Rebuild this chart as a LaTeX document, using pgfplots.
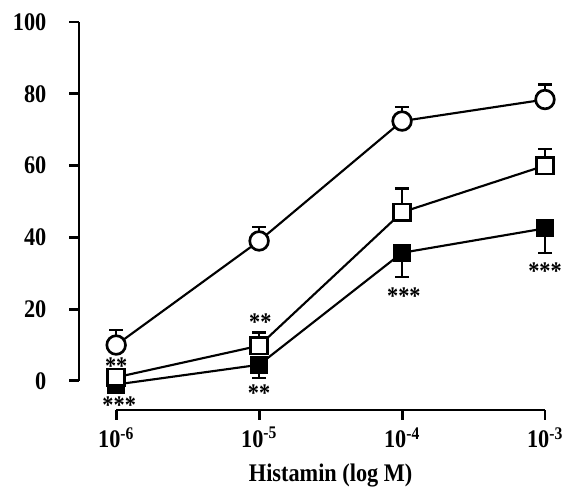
\documentclass[border=0pt]{standalone}
\usepackage{fontspec}
\setmainfont{Liberation Serif}
\newfontfamily\chartfont[FakeStretch=0.88]{Liberation Serif}
\usepackage{pgfplots}
\pgfplotsset{compat=1.18}
\begin{document}
\begin{tikzpicture}[x=1pt,y=1pt]
\begin{axis}[
  name=ax,
  scale only axis,
  width=349.5pt, height=291pt,
  xmode=log,
  xmin=5.4954e-7, xmax=1e-3,
  ymin=-8.1, ymax=100,
  clip=false,
  axis x line*=bottom, axis y line*=left,
  axis line style={draw=none},
  xtick={1e-6,1e-5,1e-4,1e-3},
  xticklabels={10\textsuperscript{-6},10\textsuperscript{-5},10\textsuperscript{-4},10\textsuperscript{-3}},
  minor x tick num=0,
  xminorticks=false,
  ytick={0,20,40,60,80,100},
  tick align=outside,
  major tick length=7.5pt,
  every tick/.style={black, line width=2.2pt},
  /pgf/number format/assume math mode=true,
  tick label style={font=\fontsize{19}{22}\selectfont\chartfont\bfseries},
  yticklabel style={xshift=-13.5pt},
  xticklabel style={yshift=-2pt},
  xlabel={Histamin (log M)},
  xlabel style={font=\fontsize{19}{22}\selectfont\chartfont\bfseries, xshift=14pt, yshift=-5pt},
  error bars/error bar style={line width=1.6pt, black},
  error bars/error mark options={rotate=90, mark size=5.3pt, line width=1.6pt, black},
]
% axis lines
\draw[line width=2.2pt] (axis cs:5.4954e-7,0) -- (axis cs:5.4954e-7,100);
\draw[line width=2.2pt] (axis cs:1e-6,-8.1) -- (axis cs:1e-3,-8.1);

% filled squares
\addplot[black, line width=1.6pt, mark=square*, mark size=6.25pt,
  mark options={fill=black, line width=1pt},
  error bars/.cd, y dir=minus, y explicit]
  coordinates {
    (1e-6,-1.0) -= (0,0)
    (1e-5,4.5) -= (0,3.8)
    (1e-4,35.7) -= (0,6.8)
    (1e-3,42.5) -= (0,6.8)
  };
% open squares
\addplot[black, line width=1.6pt, mark=square*, mark size=6.25pt,
  mark options={fill=white, line width=2pt},
  error bars/.cd, y dir=plus, y explicit]
  coordinates {
    (1e-6,1.0) += (0,0)
    (1e-5,9.8) += (0,3.7)
    (1e-4,47.0) += (0,6.6)
    (1e-3,60.0) += (0,4.6)
  };
% open circles
\addplot[black, line width=1.6pt, mark=*, mark size=7pt,
  mark options={fill=white, line width=2pt},
  error bars/.cd, y dir=plus, y explicit]
  coordinates {
    (1e-6,10.0) += (0,4.2)
    (1e-5,39.0) += (0,4.0)
    (1e-4,72.4) += (0,4.0)
    (1e-3,78.4) += (0,4.2)
  };

% significance marks
\tikzset{star/.style={font=\fontsize{19}{22}\selectfont\chartfont\bfseries, inner sep=0pt}}
\node[star] at (axis cs:1e-6,4.2) {**};
\node[star] at (axis cs:1.05e-6,-6.8) {***};
\node[star] at (axis cs:1.02e-5,16.3) {**};
\node[star] at (axis cs:1e-5,-3.4) {**};
\node[star] at (axis cs:1.03e-4,23.6) {***};
\node[star] at (axis cs:1e-3,30.6) {***};
\end{axis}
\pgfresetboundingbox
\path ([xshift=-59.25pt, yshift=-58.5pt]ax.south west) rectangle ([xshift=13.5pt, yshift=16.5pt]ax.north east);
\end{tikzpicture}
\end{document}
